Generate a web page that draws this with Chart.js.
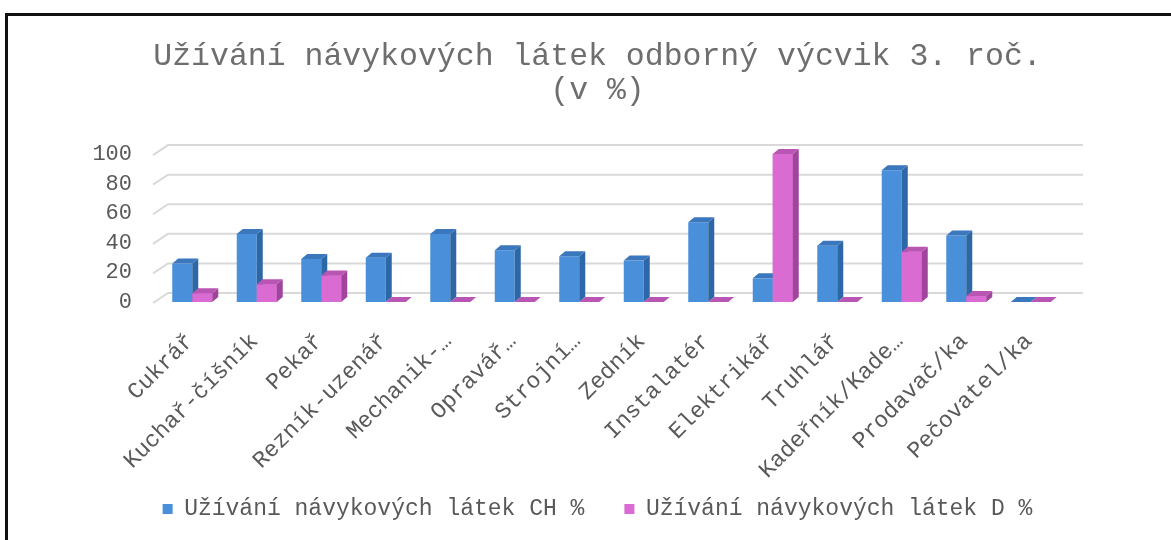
<!DOCTYPE html>
<html>
<head>
<meta charset="utf-8">
<script src="https://cdn.jsdelivr.net/npm/chart.js"></script>
<style>
  body { margin: 0; background: #fff; }
  #wrap { position: relative; width: 1171px; height: 540px; overflow: hidden; }
  #frame { position: absolute; left: 5px; top: 13px; width: 1200px; height: 600px;
           border-left: 3px solid #111; border-top: 3px solid #111; }
  #myChart { position: absolute; left: 0; top: 0; }
</style>
</head>
<body>
<div id="wrap">
  <div id="frame"></div>
  <canvas id="myChart" width="1171" height="540"></canvas>
</div>
<script>
// data
const professions = ["Cukrář", "Kuchař-číšník", "Pekař", "Rezník-uzenář", "Mechanik-…", "Opravář…",
  "Strojní…", "Zedník", "Instalatér", "Elektrikář", "Truhlář", "Kadeřník/Kade…", "Prodavač/ka", "Pečovatel/ka"];
const usingCH = [26, 46, 29, 30, 46, 35, 31, 28, 54, 16, 38, 89, 45, 0];
const usingD = [6, 12, 18, 0, 0, 0, 0, 0, 0, 100, 0, 34, 4, 0];
const yTicks = [0, 20, 40, 60, 80, 100];

const monoFont = "'Liberation Mono', 'DejaVu Sans Mono', monospace";
const grey = "#595959";

// back wall gridlines with a slanted floor edge on the left
const wall3d = {
  id: "wall3d",
  afterLayout(chart) {
    // let the rotated category labels run down to the legend without clipping
    chart.scales.x.bottom += 40;
  },
  beforeDatasetsDraw(chart) {
    const ctx = chart.ctx, a = chart.chartArea, y = chart.scales.y;
    ctx.save();
    ctx.strokeStyle = "#d9d9d9";
    ctx.lineWidth = 2;
    yTicks.forEach(v => {
      const py = y.getPixelForValue(v);
      ctx.beginPath();
      ctx.moveTo(a.left - 7, py + 1);
      ctx.lineTo(a.left + 8, py - 9);
      ctx.lineTo(a.right + 20, py - 9);
      ctx.stroke();
    });
    ctx.restore();
  }
};

// side and top faces of each bar
const depth = {
  id: "depth",
  afterDatasetsDraw(chart) {
    const ctx = chart.ctx;
    const dx = 6, dy = -5;
    chart.data.datasets.forEach((ds, i) => {
      const meta = chart.getDatasetMeta(i);
      meta.data.forEach(bar => {
        if (i > 0) bar.draw(ctx);
        const p = bar.getProps(["x", "y", "base", "width"], true);
        const l = p.x - p.width / 2, r = p.x + p.width / 2;
        ctx.save();
        ctx.fillStyle = ds.sideColor;
        ctx.beginPath();
        ctx.moveTo(r, p.y);
        ctx.lineTo(r + dx, p.y + dy);
        ctx.lineTo(r + dx, p.base + dy);
        ctx.lineTo(r, p.base);
        ctx.closePath();
        ctx.fill();
        ctx.fillStyle = ds.topColor;
        ctx.beginPath();
        ctx.moveTo(l, p.y);
        ctx.lineTo(l + dx, p.y + dy);
        ctx.lineTo(r + dx, p.y + dy);
        ctx.lineTo(r, p.y);
        ctx.closePath();
        ctx.fill();
        ctx.restore();
      });
    });
  }
};

new Chart("myChart", {
  type: "bar",
  data: {
    labels: professions,
    datasets: [{
      label: "Užívání návykových látek CH %",
      data: usingCH,
      backgroundColor: "#4a8fda",
      sideColor: "#2d67a6",
      topColor: "#3a77bd",
      borderWidth: 0
    }, {
      label: "Užívání návykových látek D %",
      data: usingD,
      backgroundColor: "#d96bd2",
      sideColor: "#a0459b",
      topColor: "#b955b2",
      borderWidth: 0
    }]
  },
  options: {
    responsive: false,
    animation: false,
    devicePixelRatio: 1,
    categoryPercentage: 0.62,
    barPercentage: 1,
    layout: { padding: { top: 0, left: 24, right: 0, bottom: 9.5 } },
    plugins: {
      title: {
        display: true,
        text: ["Užívání návykových látek odborný výcvik 3. roč.", "(v %)"],
        color: "#6e6e6e",
        font: { family: monoFont, size: 31.5, weight: "normal", lineHeight: 1.1 },
        padding: { top: 39, bottom: 45.8 }
      },
      legend: {
        position: "bottom",
        labels: {
          boxWidth: 10,
          boxHeight: 10,
          padding: 40,
          color: grey,
          font: { family: monoFont, size: 23 }
        }
      },
      tooltip: { enabled: false }
    },
    scales: {
      x: {
        grid: { display: false, drawTicks: false },
        border: { display: false },
        ticks: {
          maxRotation: 45,
          minRotation: 45,
          autoSkip: false,
          padding: 26,
          labelOffset: -2,
          color: grey,
          font: { family: monoFont, size: 23 }
        },
        afterFit(scale) { scale.height = 155.5; }
      },
      y: {
        min: 0,
        max: 100,
        grid: { display: false, drawTicks: false },
        border: { display: false },
        ticks: {
          stepSize: 20,
          padding: 28,
          color: grey,
          font: { family: monoFont, size: 22 }
        },
        afterFit(scale) { scale.width = 136; }
      },
      yRight: {
        position: "right",
        grid: { display: false, drawTicks: false },
        border: { display: false },
        ticks: { display: false },
        afterFit(scale) { scale.width = 108; }
      }
    }
  },
  plugins: [wall3d, depth]
});
</script>
</body>
</html>
